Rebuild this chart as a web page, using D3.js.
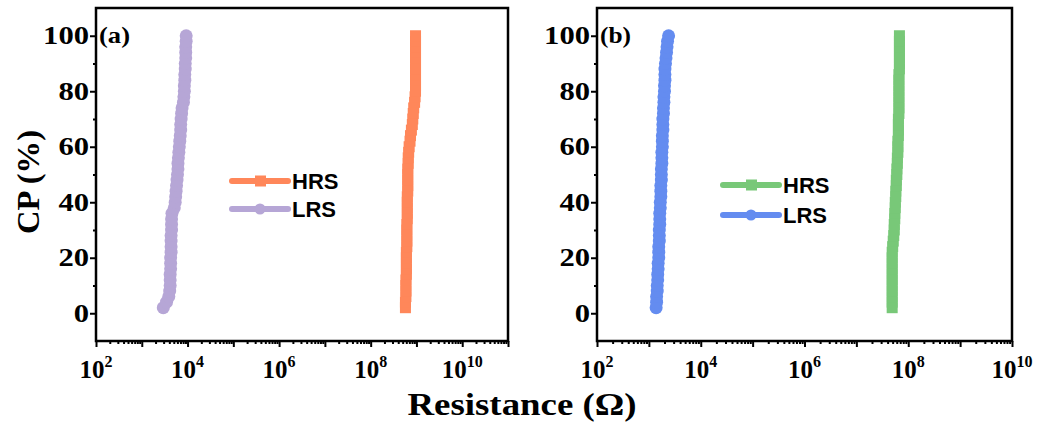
<!DOCTYPE html>
<html>
<head>
<meta charset="utf-8">
<script src="https://cdn.jsdelivr.net/npm/d3@7"></script>
<style>
  body { margin: 0; background: #fff; }
  svg { display: block; }
</style>
</head>
<body>
<div id="chart"></div>
<script>
// cumulative probability levels (%) shared by all four series
var cpLevels = [2, 4, 6, 8, 10, 12, 14, 16, 18, 20, 22, 24, 26, 28, 30, 32, 34, 36, 38, 40,
    42, 44, 46, 48, 50, 52, 54, 56, 58, 60, 62, 64, 66, 68, 70, 72, 74, 76, 78, 80,
    82, 84, 86, 88, 90, 92, 94, 96, 98, 100];

// resistance (ohm), panel (a)
var hrsA = [5.75e8, 5.75e8, 5.89e8, 5.89e8, 5.89e8, 5.89e8, 6.03e8, 6.03e8, 6.03e8, 6.03e8,
    6.03e8, 6.17e8, 6.17e8, 6.17e8, 6.17e8, 6.17e8, 6.31e8, 6.31e8, 6.31e8, 6.31e8,
    6.31e8, 6.46e8, 6.46e8, 6.46e8, 6.46e8, 6.46e8, 6.61e8, 6.61e8, 6.76e8, 6.92e8,
    7.24e8, 7.41e8, 7.76e8, 8.13e8, 8.32e8, 8.51e8, 8.71e8, 9.12e8, 9.33e8, 9.55e8,
    9.55e8, 9.55e8, 9.55e8, 9.55e8, 9.55e8, 9.55e8, 9.55e8, 9.55e8, 9.55e8, 9.55e8];
var lrsA = [2950, 3470, 3890, 4070, 4170, 4170, 4170, 4270, 4270, 4270,
    4370, 4370, 4370, 4370, 4470, 4470, 4470, 4570, 5130, 5370,
    5500, 5620, 5750, 5890, 6030, 6170, 6170, 6310, 6460, 6610,
    6760, 6920, 7080, 7080, 7240, 7410, 7590, 8130, 8320, 8510,
    8510, 8710, 8710, 8910, 8910, 9120, 9120, 9120, 9330, 9330];

// resistance (ohm), panel (b)
var hrsB = [4.90e7, 4.90e7, 4.90e7, 4.90e7, 4.90e7, 4.90e7, 4.90e7, 4.90e7, 4.90e7, 4.90e7,
    4.90e7, 5.01e7, 5.13e7, 5.25e7, 5.37e7, 5.37e7, 5.50e7, 5.50e7, 5.62e7, 5.62e7,
    5.75e7, 5.75e7, 5.89e7, 5.89e7, 6.03e7, 6.03e7, 6.17e7, 6.17e7, 6.31e7, 6.31e7,
    6.31e7, 6.46e7, 6.46e7, 6.46e7, 6.46e7, 6.61e7, 6.61e7, 6.61e7, 6.61e7, 6.61e7,
    6.61e7, 6.61e7, 6.61e7, 6.76e7, 6.76e7, 6.76e7, 6.76e7, 6.76e7, 6.76e7, 6.76e7];
var lrsB = [1380, 1410, 1410, 1450, 1450, 1480, 1480, 1510, 1510, 1550,
    1550, 1550, 1590, 1590, 1590, 1620, 1620, 1620, 1660, 1660,
    1700, 1700, 1700, 1740, 1740, 1740, 1780, 1780, 1780, 1820,
    1820, 1820, 1860, 1860, 1860, 1910, 1910, 1950, 1950, 2000,
    2000, 2040, 2040, 2040, 2090, 2140, 2190, 2240, 2290, 2400];

var yTicks = [0, 20, 40, 60, 80, 100];
var yMinorTicks = [10, 30, 50, 70, 90];
var xLabelExps = [2, 4, 6, 8, 10];
var seriesNames = ['HRS', 'LRS'];

var width = 1043;
var height = 428;

var svg = d3.select('#chart')
    .append('svg')
    .attr('width', width)
    .attr('height', height);

var serif = '"Liberation Serif", "Times New Roman", serif';
var sans = '"Liberation Sans", Arial, sans-serif';

drawPanel({
    left: 96, right: 508, top: 8, bottom: 341,
    xMax: 1e11, tag: '(a)',
    hrs: hrsA, lrs: lrsA,
    hrsColor: '#ff875a', lrsColor: '#b6a6d6',
    legendX: 232, legendY: [181, 209]
});

drawPanel({
    left: 597, right: 1012, top: 8, bottom: 341,
    xMax: 1e10, tag: '(b)',
    hrs: hrsB, lrs: lrsB,
    hrsColor: '#78c878', lrsColor: '#648cf0',
    legendX: 723, legendY: [185, 215]
});

// axis titles (the source figure is stretched sideways a little)
svg.append('text')
    .attr('transform', 'translate(39,182) rotate(-90)')
    .attr('text-anchor', 'middle')
    .attr('textLength', 104)
    .attr('lengthAdjust', 'spacingAndGlyphs')
    .style('font-family', serif)
    .style('font-weight', 'bold')
    .style('font-size', '32px')
    .text('CP (%)');

svg.append('text')
    .attr('x', 522)
    .attr('y', 415)
    .attr('text-anchor', 'middle')
    .attr('textLength', 229)
    .attr('lengthAdjust', 'spacingAndGlyphs')
    .style('font-family', serif)
    .style('font-weight', 'bold')
    .style('font-size', '32px')
    .text('Resistance (Ω)');

function drawPanel(o) {
    var x = d3.scaleLog().domain([1e2, o.xMax]).range([o.left, o.right]);
    var y = d3.scaleLinear().domain([-10, 110]).range([o.bottom, o.top]);

    var g = svg.append('g');

    // major / minor ticks on the log axis
    var decades = [];
    var minors = [];
    for (var e = 2; Math.pow(10, e) <= o.xMax; e++) {
        decades.push(Math.pow(10, e));
        for (var k = 2; k <= 9; k++) {
            if (k * Math.pow(10, e) < o.xMax) minors.push(k * Math.pow(10, e));
        }
    }

    var xMajor = g.append('g')
        .attr('transform', 'translate(0,' + o.bottom + ')')
        .call(d3.axisBottom(x).tickValues(decades).tickSize(6).tickSizeOuter(0).tickFormat(''));
    var xMinor = g.append('g')
        .attr('transform', 'translate(0,' + o.bottom + ')')
        .call(d3.axisBottom(x).tickValues(minors).tickSize(3).tickSizeOuter(0).tickFormat(''));
    var yMajor = g.append('g')
        .attr('transform', 'translate(' + o.left + ',0)')
        .call(d3.axisLeft(y).tickValues(yTicks).tickSize(6).tickSizeOuter(0).tickFormat(''));
    var yMinor = g.append('g')
        .attr('transform', 'translate(' + o.left + ',0)')
        .call(d3.axisLeft(y).tickValues(yMinorTicks).tickSize(3).tickSizeOuter(0).tickFormat(''));

    [xMajor, xMinor, yMajor, yMinor].forEach(function (a) {
        a.select('.domain').remove();
        a.selectAll('line').attr('stroke', '#000').attr('stroke-width', 2);
    });

    // tick labels
    g.append('g')
        .selectAll('text')
        .data(yTicks)
        .enter()
        .append('text')
        .attr('x', o.left - 7)
        .attr('y', function (d) { return y(d) + 8.5; })
        .attr('text-anchor', 'end')
        .attr('textLength', function (d) { return String(d).length * 15.3; })
        .attr('lengthAdjust', 'spacingAndGlyphs')
        .style('font-family', serif)
        .style('font-weight', 'bold')
        .style('font-size', '25px')
        .text(function (d) { return d; });

    var xl = g.append('g')
        .selectAll('text')
        .data(xLabelExps)
        .enter()
        .append('text')
        .attr('x', function (d) { return x(Math.pow(10, d)); })
        .attr('y', 378)
        .attr('text-anchor', 'middle')
        .style('font-family', serif)
        .style('font-weight', 'bold')
        .style('font-size', '25px');
    xl.append('tspan').text('10');
    xl.append('tspan')
        .attr('dy', -11)
        .style('font-size', '16px')
        .text(function (d) { return d; });

    // frame
    g.append('rect')
        .attr('x', o.left)
        .attr('y', o.top)
        .attr('width', o.right - o.left)
        .attr('height', o.bottom - o.top)
        .attr('fill', 'none')
        .attr('stroke', '#000')
        .attr('stroke-width', 2.5);

    g.append('text')
        .attr('x', o.left + 3)
        .attr('y', 43)
        .attr('textLength', 31)
        .attr('lengthAdjust', 'spacingAndGlyphs')
        .style('font-family', serif)
        .style('font-weight', 'bold')
        .style('font-size', '23px')
        .text(o.tag);

    var line = d3.line()
        .x(function (d) { return x(d[0]); })
        .y(function (d) { return y(d[1]); });

    var hrsPts = o.hrs.map(function (r, i) { return [r, cpLevels[i]]; });
    var lrsPts = o.lrs.map(function (r, i) { return [r, cpLevels[i]]; });

    // HRS: squares
    g.append('path')
        .datum(hrsPts)
        .attr('d', line)
        .attr('fill', 'none')
        .attr('stroke', o.hrsColor)
        .attr('stroke-width', 6);
    g.append('g')
        .selectAll('rect')
        .data(hrsPts)
        .enter()
        .append('rect')
        .attr('x', function (d) { return x(d[0]) - 5.5; })
        .attr('y', function (d) { return y(d[1]) - 5.5; })
        .attr('width', 11)
        .attr('height', 11)
        .attr('fill', o.hrsColor);

    // LRS: circles
    g.append('path')
        .datum(lrsPts)
        .attr('d', line)
        .attr('fill', 'none')
        .attr('stroke', o.lrsColor)
        .attr('stroke-width', 6);
    g.append('g')
        .selectAll('circle')
        .data(lrsPts)
        .enter()
        .append('circle')
        .attr('cx', function (d) { return x(d[0]); })
        .attr('cy', function (d) { return y(d[1]); })
        .attr('r', 6.5)
        .attr('fill', o.lrsColor);

    // legend
    var colors = [o.hrsColor, o.lrsColor];
    var lg = g.append('g')
        .selectAll('g')
        .data(seriesNames)
        .enter()
        .append('g')
        .attr('transform', function (d, i) { return 'translate(' + o.legendX + ',' + o.legendY[i] + ')'; });
    lg.append('line')
        .attr('x1', 0).attr('x2', 56)
        .attr('stroke', function (d, i) { return colors[i]; })
        .attr('stroke-width', 6)
        .attr('stroke-linecap', 'round');
    lg.filter(function (d, i) { return i === 0; })
        .append('rect')
        .attr('x', 23).attr('y', -5.5)
        .attr('width', 11).attr('height', 11)
        .attr('fill', o.hrsColor);
    lg.filter(function (d, i) { return i === 1; })
        .append('circle')
        .attr('cx', 28).attr('r', 5.5)
        .attr('fill', o.lrsColor);
    lg.append('text')
        .attr('x', 60)
        .attr('y', 7.5)
        .style('font-family', sans)
        .style('font-weight', 'bold')
        .style('font-size', '22px')
        .text(function (d) { return d; });
}
</script>
</body>
</html>
